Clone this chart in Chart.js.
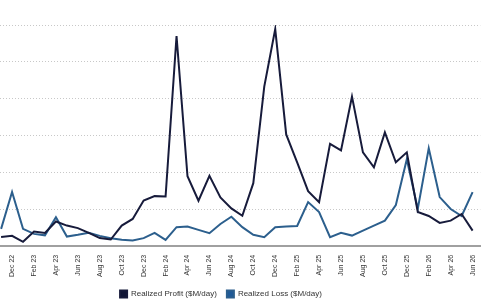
<!DOCTYPE html>
<html>
<head>
<meta charset="utf-8">
<script src="https://cdn.jsdelivr.net/npm/chart.js@4/dist/chart.umd.min.js"></script>
<style>
  html, body { margin: 0; padding: 0; background: #ffffff; overflow: hidden; width: 482px; height: 300px; }
  #wrap { position: absolute; left: -40px; top: 0; width: 522px; height: 300px; overflow: hidden; }
</style>
</head>
<body>
<div id="wrap"><canvas id="c" width="522" height="308"></canvas></div>
<script>
const months = ['Nov 22','Dec 22','Jan 23','Feb 23','Mar 23','Apr 23','May 23','Jun 23','Jul 23','Aug 23','Sep 23','Oct 23','Nov 23','Dec 23',
  'Jan 24','Feb 24','Mar 24','Apr 24','May 24','Jun 24','Jul 24','Aug 24','Sep 24','Oct 24','Nov 24','Dec 24',
  'Jan 25','Feb 25','Mar 25','Apr 25','May 25','Jun 25','Jul 25','Aug 25','Sep 25','Oct 25','Nov 25','Dec 25',
  'Jan 26','Feb 26','Mar 26','Apr 26','May 26','Jun 26'];

const realizedProfit = [120,135,55,195,175,330,275,240,175,105,85,275,365,615,675,670,2850,945,612,950,658,509,409,851,2162,2945,
  1513,1135,743,594,1385,1297,2027,1270,1067,1540,1135,1270,459,405,311,342,432,207];

const realizedLoss = [230,730,230,162,142,388,126,149,176,135,104,81,72,104,176,81,253,261,216,172,297,396,253,149,118,253,
  263,270,594,459,118,176,139,207,274,342,554,1175,500,1324,662,500,405,730];

const tickMonths = ['Dec 22','Feb 23','Apr 23','Jun 23','Aug 23','Oct 23','Dec 23','Feb 24','Apr 24','Jun 24','Aug 24','Oct 24',
  'Dec 24','Feb 25','Apr 25','Jun 25','Aug 25','Oct 25','Dec 25','Feb 26','Apr 26','Jun 26'];

const seriesNames = ['Realized Profit ($M/day)', 'Realized Loss ($M/day)'];

const toPoints = arr => arr.map((v, i) => ({ x: i, y: v }));

new Chart(document.getElementById('c'), {
  type: 'line',
  data: {
    datasets: [
      { label: seriesNames[0], data: toPoints(realizedProfit), borderColor: '#171b3b', backgroundColor: '#111636',
        borderWidth: 2, pointRadius: 0, tension: 0 },
      { label: seriesNames[1], data: toPoints(realizedLoss), borderColor: '#2c5f8d', backgroundColor: '#1f5a98',
        borderWidth: 2, pointRadius: 0, tension: 0 }
    ]
  },
  options: {
    responsive: false,
    animation: false,
    layout: { padding: { left: 0, right: 0, top: 25, bottom: 0 } },
    plugins: {
      tooltip: { enabled: false },
      legend: {
        position: 'bottom',
        labels: { boxWidth: 7, boxHeight: 7, padding: 10, color: '#333', font: { family: 'Liberation Sans', size: 8 } }
      }
    },
    scales: {
      x: {
        type: 'linear', min: -0.1, max: 43.7,
        afterBuildTicks: s => { s.ticks = tickMonths.map(m => ({ value: months.indexOf(m) })); },
        afterFit: s => { s.height += 2; },
        ticks: { autoSkip: false, minRotation: 90, maxRotation: 90, padding: 1, color: '#333',
          font: { family: 'Liberation Sans', size: 7 },
          callback: v => months[v] },
        grid: { display: false },
        border: { display: true, color: '#a0a0a0', width: 2 }
      },
      y: {
        min: 0, max: 3000,
        afterFit: s => { s.width = 40; },
        ticks: { display: false, stepSize: 500 },
        grid: { color: '#c8c8c8', lineWidth: 1, drawTicks: false },
        border: { display: false, dash: [1, 2] }
      }
    }
  }
});
</script>
</body>
</html>
